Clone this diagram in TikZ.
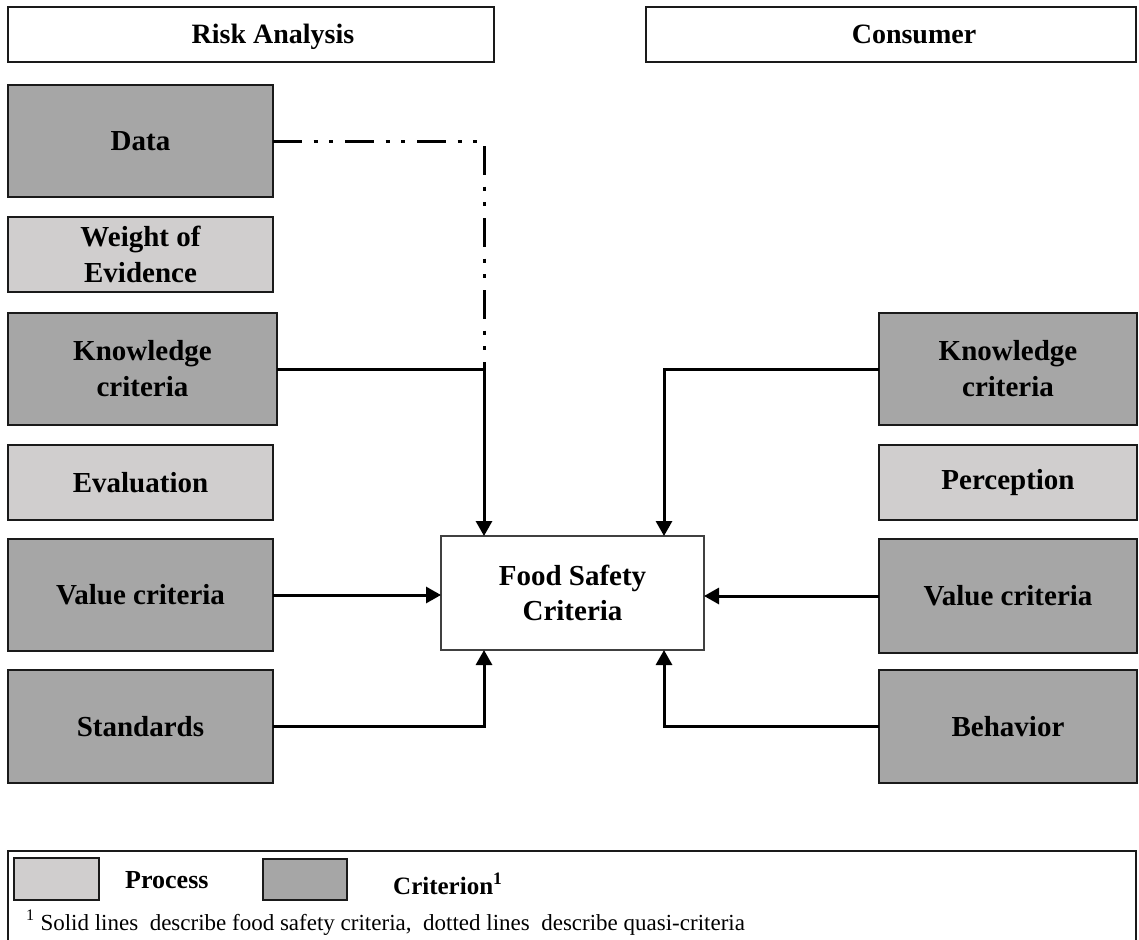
\documentclass[tikz,border=0pt]{standalone}
\usepackage{fontspec}
\setmainfont{Liberation Serif}
\usetikzlibrary{arrows.meta}

\definecolor{critfill}{HTML}{A6A6A6}
\definecolor{procfill}{HTML}{D0CECE}
\definecolor{edgeclr}{HTML}{1A1A1A}
\definecolor{coreedge}{HTML}{404040}

\tikzset{
  box/.style={draw=edgeclr, line width=2.2pt, inner sep=0pt, outer sep=0pt,
    align=center, font=\bfseries\fontsize{29}{36}\selectfont},
  critbox/.style={box, fill=critfill},
  procbox/.style={box, fill=procfill},
  headbox/.style={draw=edgeclr, line width=2.6pt, fill=white, inner sep=0pt, outer sep=0pt},
  headtext/.style={font=\bfseries\fontsize{28}{32}\selectfont, inner sep=0pt},
  corebox/.style={draw=coreedge, line width=1.8pt, fill=white, inner sep=0pt, outer sep=0pt,
    align=center, font=\bfseries\fontsize{29}{35}\selectfont},
  conn/.style={line width=3pt, draw=black, -{Triangle[length=15pt,width=16pt]}},
  quasi/.style={line width=3pt, draw=black,
    dash pattern=on 29pt off 11.5pt on 4pt off 11.5pt on 4pt off 12pt},
  swatchtext/.style={inner sep=0pt, anchor=base west},
}

\begin{document}
\begin{tikzpicture}[x=1pt, y=-1pt]
  \useasboundingbox (0,0) rectangle (1139,939);

  % column headers
  \node[headbox, minimum width=486pt, minimum height=55pt] (hRisk) at (251,34.5) {};
  \node[headtext, anchor=base] (tRisk) at (273,44) {Risk Analysis};
  \node[headbox, minimum width=490pt, minimum height=55pt] (hCons) at (891,34.5) {};
  \node[headtext, anchor=base] (tCons) at (914,44) {Consumer};

  % risk analysis column
  \node[critbox, minimum width=265pt, minimum height=112pt] (data) at (140.5,141) {Data};
  \node[procbox, minimum width=265pt, minimum height=75pt] (woe) at (140.5,254.5) {Weight of\\Evidence};
  \node[critbox, minimum width=269pt, minimum height=112pt] (kL) at (142.5,369) {Knowledge\\criteria};
  \node[procbox, minimum width=265pt, minimum height=75pt] (evalu) at (140.5,482.5) {Evaluation};
  \node[critbox, minimum width=265pt, minimum height=112pt] (vL) at (140.5,595) {Value criteria};
  \node[critbox, minimum width=265pt, minimum height=113pt] (sL) at (140.5,726.5) {Standards};

  % consumer column
  \node[critbox, minimum width=258pt, minimum height=112pt] (kR) at (1008,369) {Knowledge\\criteria};
  \node[procbox, minimum width=258pt, minimum height=75pt] (perc) at (1008,482.5) {Perception};
  \node[critbox, minimum width=258pt, minimum height=114pt] (vR) at (1008,596) {Value criteria};
  \node[critbox, minimum width=258pt, minimum height=113pt] (bR) at (1008,726.5) {Behavior};

  % central node
  \node[corebox, minimum width=263pt, minimum height=114pt] (fsc) at (572.5,593) {Food Safety\\Criteria};

  % connectors
  \coordinate (jL) at (484,369);
  \draw[quasi] (data.east) -| (jL);
  \draw[conn] (kL.east) -| ([xshift=43pt]fsc.north west);
  \draw[conn] (vL.east) -- (fsc.west |- vL.east);
  \draw[conn] (sL.east) -| ([xshift=43pt]fsc.south west);

  \draw[conn] (kR.west) -| ([xshift=-40pt]fsc.north east);
  \draw[conn] (vR.west) -- (fsc.east |- vR.west);
  \draw[conn] (bR.west) -| ([xshift=-40pt]fsc.south east);

  % legend
  \draw[draw=edgeclr, line width=2.2pt] (8,945) rectangle (1136,851);
  \node[procbox, minimum width=85pt, minimum height=42pt] (lgProc) at (56.5,879) {};
  \node[swatchtext, font=\bfseries\fontsize{26}{30}\selectfont] (lgProcT) at (125,888) {Process};
  \node[critbox, minimum width=84pt, minimum height=41pt] (lgCrit) at (305,879.5) {};
  \node[swatchtext, font=\bfseries\fontsize{25}{30}\selectfont] (lgCritT) at (393,894) {Criterion\textsuperscript{1}};
  \node[swatchtext, font=\fontsize{23}{28}\selectfont] (lgNote) at (26,930)
    {\textsuperscript{1} Solid lines\ \ describe food safety criteria,\ \ dotted lines\ \ describe quasi-criteria};
\end{tikzpicture}
\end{document}
